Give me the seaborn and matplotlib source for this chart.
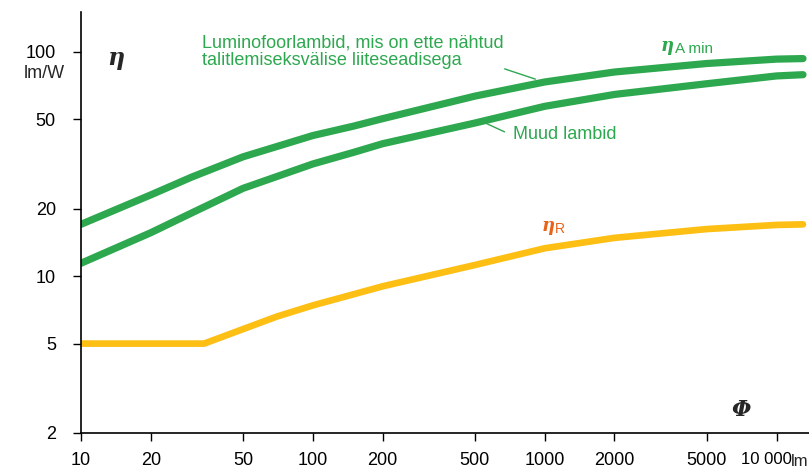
import numpy as np
import pandas as pd
import seaborn as sns
import matplotlib.pyplot as plt
from matplotlib.transforms import ScaledTranslation

# luminous flux (lm) and efficacy (lm/W)
flux_fluor = [10, 20, 30, 50, 100, 150, 200, 500, 1000, 2000, 5000, 10000, 13000]
eta_fluor = [17.0, 23.0, 27.6, 34.0, 42.3, 46.6, 50.3, 63.4, 73.3, 81.2, 88.6, 92.7, 93.2]

flux_other = [10, 20, 30, 50, 100, 150, 200, 500, 1000, 2000, 5000, 10000, 13000]
eta_other = [11.4, 15.6, 19.1, 24.6, 31.6, 35.6, 38.9, 48.1, 57.1, 64.5, 72.0, 78.0, 79.0]

flux_r = [10, 20, 34, 50, 70, 100, 200, 500, 1000, 2000, 5000, 10000, 13000]
eta_r = [5, 5, 5, 5.8, 6.6, 7.4, 9.0, 11.2, 13.3, 14.8, 16.2, 16.9, 17.0]

x_ticks = [10, 20, 50, 100, 200, 500, 1000, 2000, 5000, 10000]
x_labels = ['10', '20', '50', '100', '200', '500', '1000', '2000', '5000', '10 000']
y_ticks = [2, 5, 10, 20, 50, 100]
y_labels = ['2', '5', '10', '20', '50', '100']

green = '#2da84f'
orange = '#fdbf14'
red_orange = '#e8641a'

sns.set_style('ticks')
plt.rcParams['font.family'] = ['Liberation Sans', 'DejaVu Sans']

W, H = 809, 470


def pos(x, y):
    # pixel position -> figure fraction
    return x / W, 1 - y / H


fig = plt.figure(figsize=(W / 100, H / 100), dpi=100)
ax = fig.add_axes([0.1, 0.079, 0.9, 0.895])

sns.lineplot(x=flux_fluor, y=eta_fluor, ax=ax, color=green, linewidth=5.2, solid_capstyle='round')
sns.lineplot(x=flux_other, y=eta_other, ax=ax, color=green, linewidth=5.2, solid_capstyle='round')
sns.lineplot(x=flux_r, y=eta_r, ax=ax, color=orange, linewidth=4.8, solid_capstyle='round')

ax.set_xscale('log')
ax.set_yscale('log')
ax.set_xlim(10, 13800)
ax.set_ylim(2, 150)
ax.set_xticks(x_ticks)
ax.set_xticklabels(x_labels)
ax.set_yticks(y_ticks)
ax.set_yticklabels(y_labels)
ax.minorticks_off()
ax.tick_params(axis='both', labelsize=13, colors='black', length=6, width=1)
ax.tick_params(axis='x', pad=8)
ax.tick_params(axis='y', pad=12)
sns.despine(ax=ax)
for s in ['left', 'bottom']:
    ax.spines[s].set_linewidth(1.2)
    ax.spines[s].set_color('black')

# nudge the last x label left so "lm" fits after it
last = ax.get_xticklabels()[-1]
last.set_fontsize(12)
last.set_transform(last.get_transform() + ScaledTranslation(-10 / 100, 0, fig.dpi_scale_trans))

# axis captions
fig.text(*pos(44, 73), 'lm/W', fontsize=13, ha='center', va='center')
fig.text(*pos(808, 462), 'lm', fontsize=12, ha='right', va='center')
fig.text(*pos(116, 58), 'η', family='DejaVu Serif', fontsize=17,
         fontstyle='italic', fontweight='bold', ha='center', va='center')
fig.text(*pos(741, 410), 'Φ', family='DejaVu Serif', fontsize=16,
         fontstyle='italic', fontweight='bold', ha='center', va='center')

# curve labels
fig.text(*pos(202, 34), 'Luminofoorlambid, mis on ette nähtud\ntalitlemiseksvälise liiteseadisega',
         color=green, fontsize=13, ha='left', va='top', linespacing=1.05)
ax.annotate('', xy=pos(538, 80), xytext=pos(502, 68), xycoords='figure fraction',
            arrowprops=dict(arrowstyle='-', color=green, lw=1))
fig.text(*pos(513, 134), 'Muud lambid', color=green, fontsize=13, ha='left', va='center')
ax.annotate('', xy=pos(507, 133), xytext=pos(481, 121), xycoords='figure fraction',
            arrowprops=dict(arrowstyle='-', color=green, lw=1))

fig.text(*pos(667, 46), 'η', family='DejaVu Serif', color=green, fontsize=13,
         fontstyle='italic', fontweight='bold', ha='center', va='center')
fig.text(*pos(675, 49), 'A min', color=green, fontsize=11, ha='left', va='center')
fig.text(*pos(548, 226), 'η', family='DejaVu Serif', color=red_orange, fontsize=13,
         fontstyle='italic', fontweight='bold', ha='center', va='center')
fig.text(*pos(555, 229), 'R', color=red_orange, fontsize=10, ha='left', va='center')

fig.savefig('out.png', dpi=100)
